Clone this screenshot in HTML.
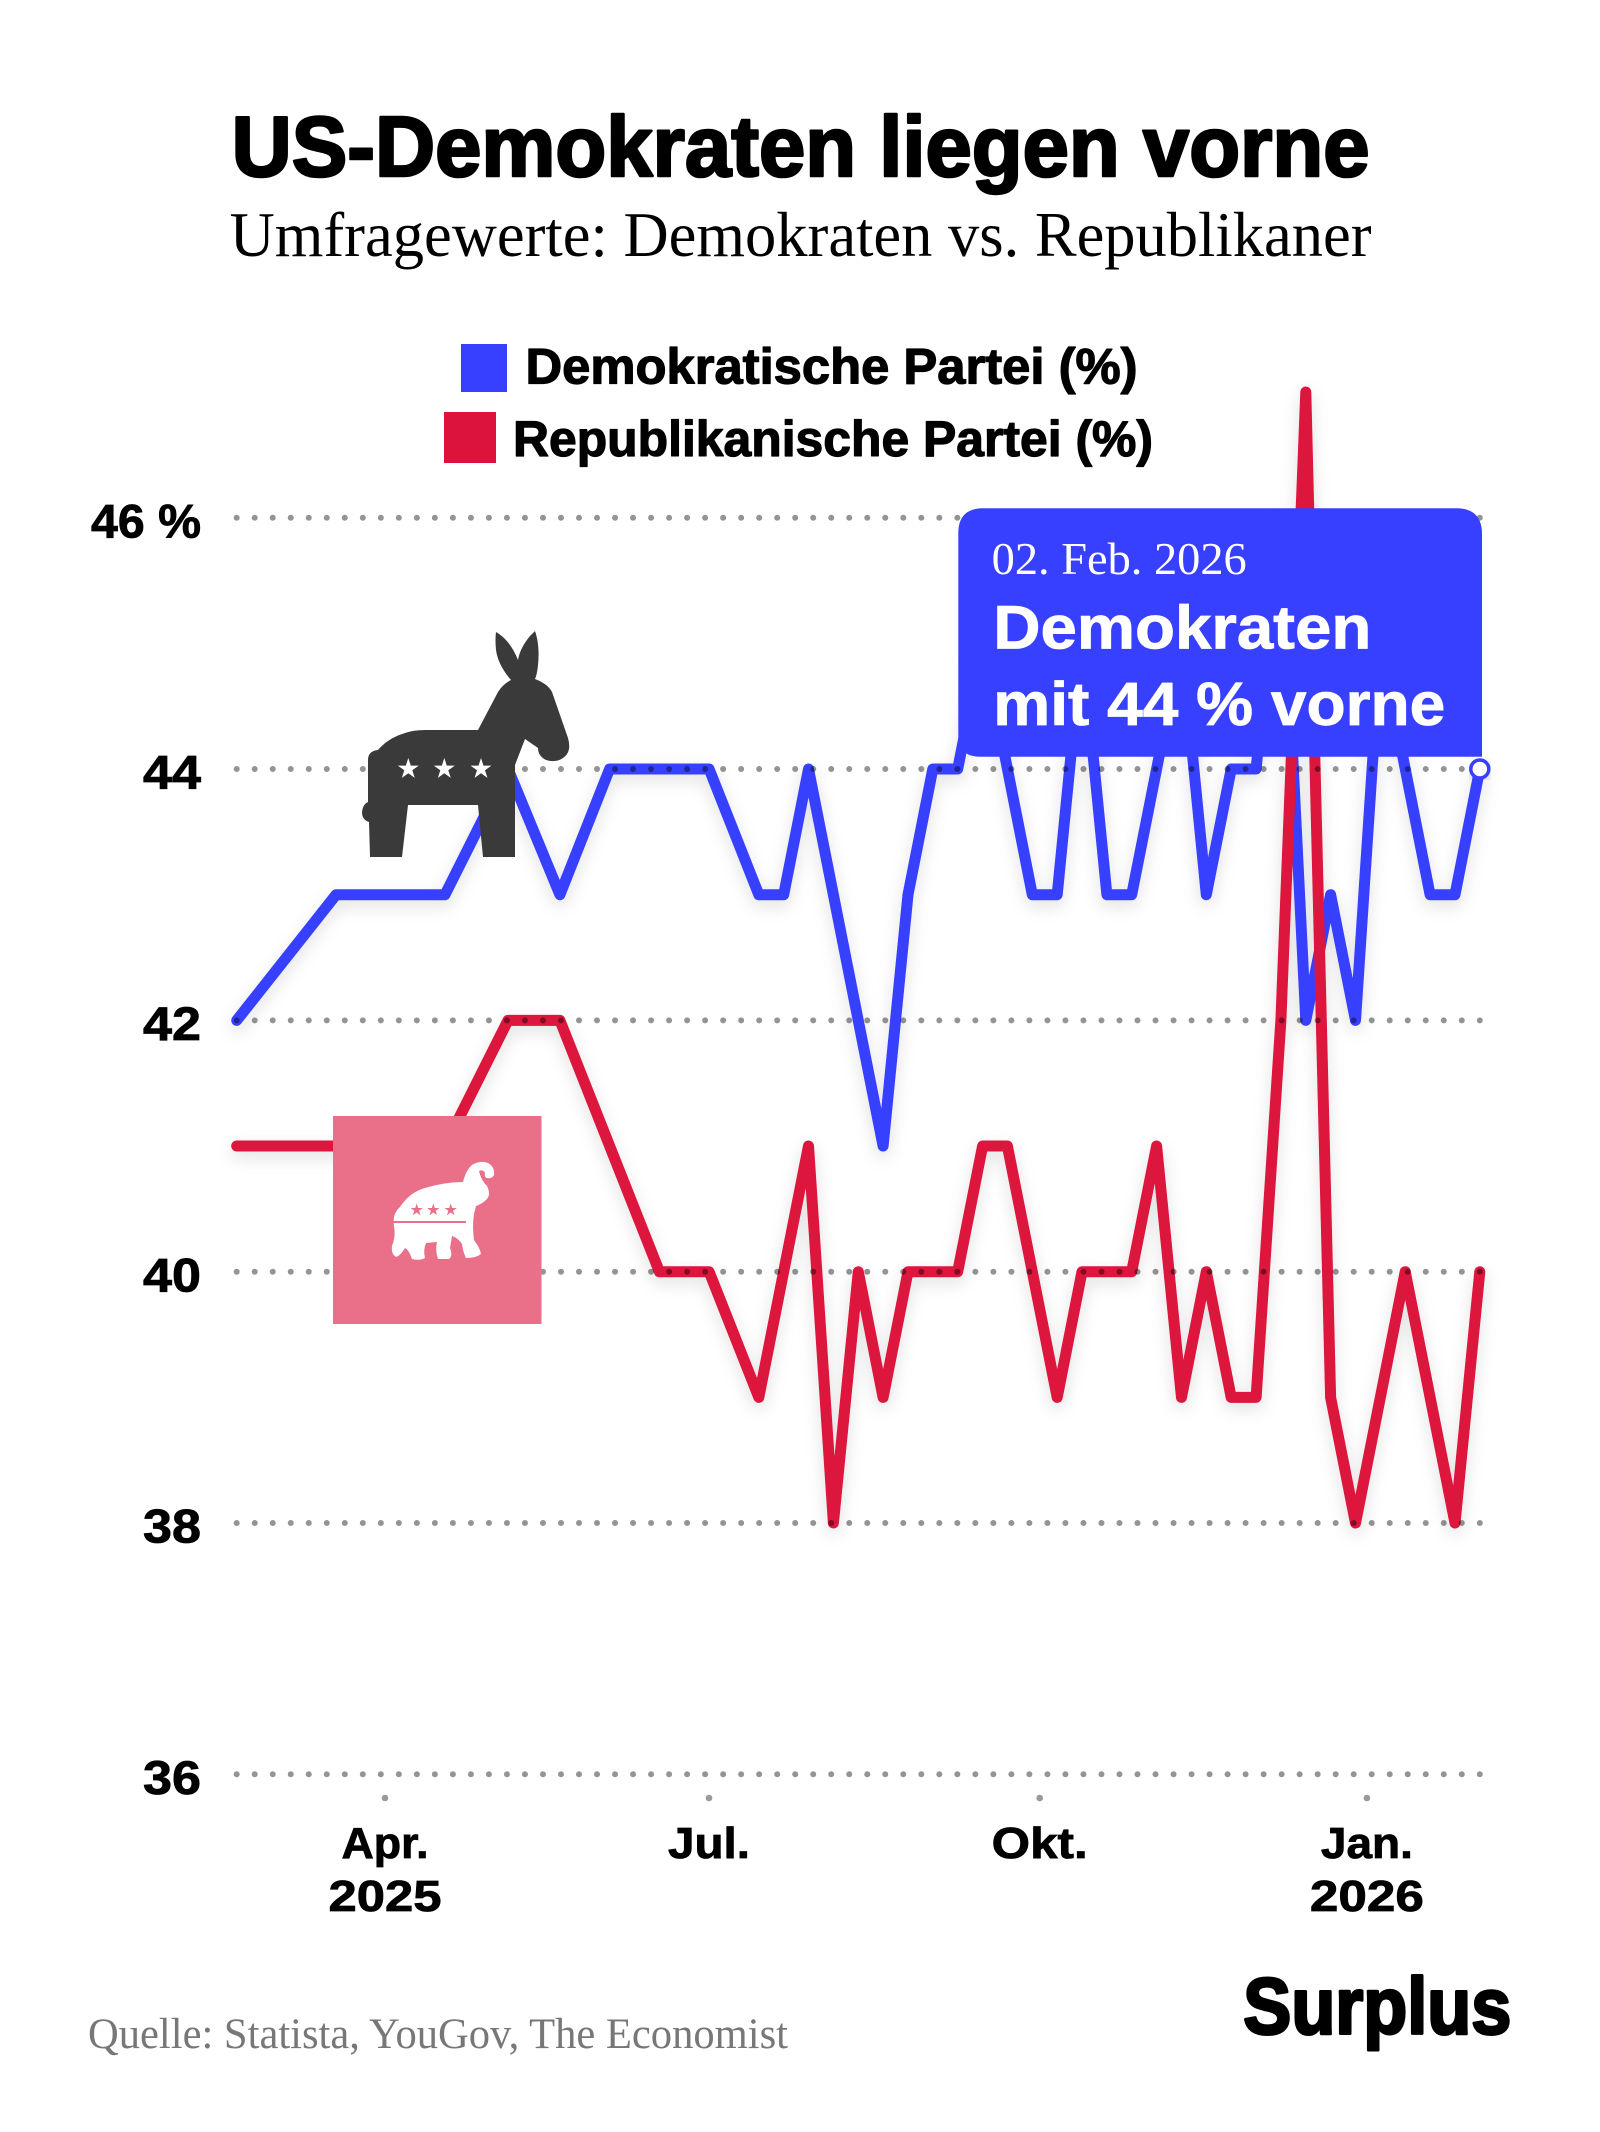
<!DOCTYPE html>
<html>
<head>
<meta charset="utf-8">
<style>
  html,body{margin:0;padding:0;background:#fff;}
  svg{display:block;}
  .sans{font-family:"Liberation Sans",Arial,sans-serif;font-weight:bold;}
  .serif{font-family:"Liberation Serif","Times New Roman",serif;}
</style>
</head>
<body>
<svg width="1600" height="2132" viewBox="0 0 1600 2132" xmlns="http://www.w3.org/2000/svg">
  <defs>
    <filter id="sh" x="-10%" y="-10%" width="120%" height="120%">
      <feDropShadow dx="0" dy="6" stdDeviation="8" flood-color="#000" flood-opacity="0.13"/>
    </filter>
    <path id="star" d="M0,-1 L0.2245,-0.309 L0.951,-0.309 L0.363,0.118 L0.588,0.809 L0,0.382 L-0.588,0.809 L-0.363,0.118 L-0.951,-0.309 L-0.2245,-0.309 Z"/>
  </defs>
  <rect width="1600" height="2132" fill="#fff"/>

  <!-- Title -->
  <text class="sans" x="231.6" y="176" font-size="85" textLength="1138" lengthAdjust="spacingAndGlyphs" fill="#000" stroke="#000" stroke-width="2.6" stroke-linejoin="round">US-Demokraten liegen vorne</text>
  <text class="serif" x="229.6" y="256" font-size="64" textLength="1142" lengthAdjust="spacingAndGlyphs" fill="#000">Umfragewerte: Demokraten vs. Republikaner</text>

  <!-- Legend -->
  <rect x="461" y="344" width="46" height="48" fill="#3840FF"/>
  <text class="sans" x="525.5" y="383.3" font-size="50" textLength="612" lengthAdjust="spacingAndGlyphs" fill="#000" stroke="#000" stroke-width="1.2" stroke-linejoin="round">Demokratische Partei (%)</text>
  <rect x="444" y="412" width="52" height="51" fill="#DC143C"/>
  <text class="sans" x="513" y="456" font-size="50" textLength="640" lengthAdjust="spacingAndGlyphs" fill="#000" stroke="#000" stroke-width="1.2" stroke-linejoin="round">Republikanische Partei (%)</text>

  <!-- Y labels -->
  <g class="sans" font-size="47" fill="#000" text-anchor="end" stroke="#000" stroke-width="0.8">
    <text x="201" y="537.3" textLength="110" lengthAdjust="spacingAndGlyphs">46 %</text>
    <text x="201" y="788.6" textLength="58" lengthAdjust="spacingAndGlyphs">44</text>
    <text x="201" y="1040" textLength="58" lengthAdjust="spacingAndGlyphs">42</text>
    <text x="201" y="1291.3" textLength="58" lengthAdjust="spacingAndGlyphs">40</text>
    <text x="201" y="1542.6" textLength="58" lengthAdjust="spacingAndGlyphs">38</text>
    <text x="201" y="1794" textLength="58" lengthAdjust="spacingAndGlyphs">36</text>
  </g>

  <!-- Series -->
  <g filter="url(#sh)" fill="none" stroke-linejoin="round" stroke-linecap="round" stroke-width="11">
    <polyline stroke="#3840FF" points="236.7,1020.4 336.1,894.7 445,894.7 508,769.0 559.9,894.7 609.6,769.0 709.1,769.0 758.8,894.7 783.7,894.7 808.5,769.0 883.1,1146.0 908.0,894.7 932.8,769.0 957.7,769.0 982.6,643.4 1032.3,894.7 1057.2,894.7 1082.0,643.4 1106.9,894.7 1131.7,894.7 1181.5,643.4 1206.3,894.7 1231.2,769.0 1256.1,769.0 1280.9,517.7 1305.8,1020.4 1330.6,894.7 1355.5,1020.4 1380.4,643.4 1430.1,894.7 1455.0,894.7 1479.8,769.0"/>
    <polyline stroke="#DC143C" points="236.7,1146.0 445,1146.0 508,1020.4 559.9,1020.4 659.4,1271.7 709.1,1271.7 758.8,1397.4 808.5,1146.0 833.4,1523.0 858.3,1271.7 883.1,1397.4 908.0,1271.7 957.7,1271.7 982.6,1146.0 1007.4,1146.0 1057.2,1397.4 1082.0,1271.7 1131.7,1271.7 1156.6,1146.0 1181.5,1397.4 1206.3,1271.7 1231.2,1397.4 1256.1,1397.4 1280.9,1020.4 1305.8,392.0 1330.6,1397.4 1355.5,1523.0 1405.2,1271.7 1455.0,1523.0 1479.8,1271.7"/>
  </g>

  <!-- Grid dots -->
  <g stroke="rgba(0,0,0,0.42)" stroke-width="6" stroke-linecap="round" stroke-dasharray="0 18.016">
    <line x1="236.7" y1="517.7" x2="1480" y2="517.7"/>
    <line x1="236.7" y1="769.0" x2="1480" y2="769.0"/>
    <line x1="236.7" y1="1020.4" x2="1480" y2="1020.4"/>
    <line x1="236.7" y1="1271.7" x2="1480" y2="1271.7"/>
    <line x1="236.7" y1="1523.0" x2="1480" y2="1523.0"/>
    <line x1="236.7" y1="1774.3" x2="1480" y2="1774.3"/>
  </g>

  <!-- X ticks -->
  <g fill="#999">
    <circle cx="385" cy="1798" r="3.3"/>
    <circle cx="709" cy="1798" r="3.3"/>
    <circle cx="1039.7" cy="1798" r="3.3"/>
    <circle cx="1366.9" cy="1798" r="3.3"/>
  </g>
  <g class="sans" font-size="44" fill="#000" text-anchor="middle" stroke="#000" stroke-width="0.8">
    <text x="385" y="1858" textLength="87" lengthAdjust="spacingAndGlyphs">Apr.</text>
    <text x="385" y="1911" textLength="113" lengthAdjust="spacingAndGlyphs">2025</text>
    <text x="709" y="1858" textLength="82" lengthAdjust="spacingAndGlyphs">Jul.</text>
    <text x="1039.7" y="1858" textLength="96" lengthAdjust="spacingAndGlyphs">Okt.</text>
    <text x="1366.9" y="1858" textLength="92" lengthAdjust="spacingAndGlyphs">Jan.</text>
    <text x="1366.9" y="1911" textLength="114" lengthAdjust="spacingAndGlyphs">2026</text>
  </g>

  <!-- Donkey -->
  <path fill="#3a3a3a" d="M370 857 L369 822 Q362 820 362 812 Q363 804 368 802 L368 760 Q368 751 378 750 Q388 738 405 733 Q413 730 425 730 L478 730 L498 692 Q503 684 511 680 Q498 665 496 650 Q495 640 496 632 Q510 640 518 660 Q520 648 530 636 L535 631 Q540 645 538 665 Q537 675 535 679 Q548 684 552 692 L568 738 Q572 752 563 758 Q556 763 546 760 Q538 756 538 748 L525 739 L515 765 L515 857 L483 857 L478 805 L408 805 L402 857 Z"/>
  <g fill="#fff">
    <use href="#star" transform="translate(408.3,769) scale(11)"/>
    <use href="#star" transform="translate(444.3,769) scale(11)"/>
    <use href="#star" transform="translate(481,769) scale(11)"/>
  </g>

  <!-- Elephant box -->
  <rect x="333" y="1116" width="208.5" height="208" fill="#EA7089"/>
  <path fill="#fff" d="M400 1207 Q410 1192 425 1188 Q445 1182 463 1182 Q466 1170 472 1165 Q480 1160 488 1163 Q495 1167 494 1175 Q492 1179 487 1178 Q484 1177 485 1173 Q483 1169 479 1171 Q481 1180 487 1186 Q491 1194 487 1199 Q482 1204 476 1206 L474 1214 Q472 1226 474 1240 Q480 1248 481 1254 Q476 1258 466 1258 Q463 1252 462 1244 Q458 1238 452 1236 L450 1248 Q453 1256 449 1259 L438 1259 Q435 1250 437 1242 L426 1243 Q423 1250 425 1258 Q420 1261 412 1259 Q409 1250 405 1248 Q400 1256 396 1257 Q391 1254 392 1246 Q396 1236 394 1226 Q392 1214 400 1207 Z"/>
  <line x1="393" y1="1222" x2="466" y2="1222" stroke="#EA7089" stroke-width="2"/>
  <g fill="#EA7089">
    <use href="#star" transform="translate(416.7,1210) scale(6.5)"/>
    <use href="#star" transform="translate(433.3,1210) scale(6.5)"/>
    <use href="#star" transform="translate(450.7,1210) scale(6.5)"/>
  </g>

  <!-- Callout -->
  <path fill="#3840FF" d="M983.3 508.3 L1456 508.3 Q1482 508.3 1482 534 L1482 756.7 L980 756.7 Q958.3 756.7 958.3 735 L958.3 533.3 Q958.3 508.3 983.3 508.3 Z"/>
  <text class="serif" x="991.7" y="574" font-size="46" fill="#fff" textLength="255" lengthAdjust="spacingAndGlyphs">02. Feb. 2026</text>
  <text class="sans" x="993.3" y="648.3" font-size="61" fill="#fff" stroke="#fff" stroke-width="0.8" textLength="378" lengthAdjust="spacingAndGlyphs">Demokraten</text>
  <text class="sans" x="993.3" y="725" font-size="61" fill="#fff" stroke="#fff" stroke-width="0.8" textLength="452" lengthAdjust="spacingAndGlyphs">mit 44 % vorne</text>

  <!-- End marker -->
  <circle cx="1479.8" cy="769" r="9" fill="#fff" stroke="#3840FF" stroke-width="3.5" filter="url(#sh)"/>

  <!-- Footer -->
  <text class="serif" x="88" y="2048" font-size="43" fill="#777" textLength="700" lengthAdjust="spacingAndGlyphs">Quelle: Statista, YouGov, The Economist</text>
  <text class="sans" x="1243.3" y="2033.3" font-size="80" fill="#000" stroke="#000" stroke-width="3" stroke-linejoin="round" textLength="268" lengthAdjust="spacingAndGlyphs">Surplus</text>
</svg>
</body>
</html>
